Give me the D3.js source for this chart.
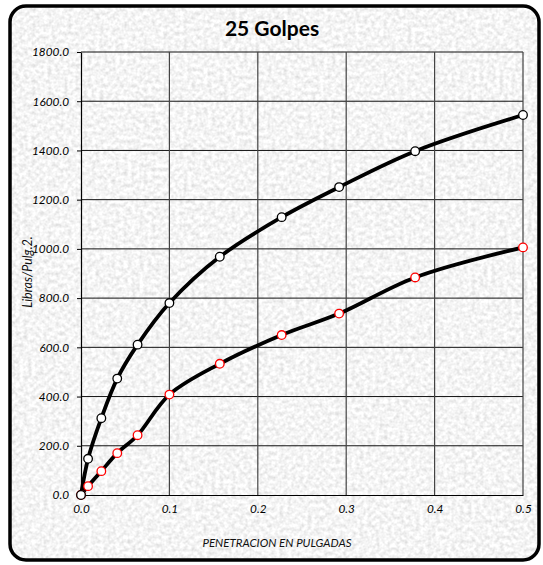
<!DOCTYPE html>
<html>
<head>
<meta charset="utf-8">
<script src="https://cdn.jsdelivr.net/npm/d3@7"></script>
<style>
  html, body { margin: 0; padding: 0; background: #ffffff; }
  svg { display: block; }
  .tick text { font-family: Lato, "Open Sans", sans-serif; font-style: italic; font-size: 11.8px; fill: #000; }
</style>
</head>
<body>
<script>
// CBR test, 25 blows: load (lb/in²) against penetration (in)
const penetracion = [0, 0.008, 0.023, 0.041, 0.064, 0.1, 0.157, 0.227, 0.292, 0.378, 0.5];
const cargaSuperior = [0, 147, 312, 473, 611, 780, 968, 1129, 1251, 1397, 1544];
const cargaInferior = [0, 36, 97, 170, 243, 408, 533, 650, 737, 884, 1006];
const yTicks = [0, 200, 400, 600, 800, 1000, 1200, 1400, 1600, 1800];
const xTicks = [0, 0.1, 0.2, 0.3, 0.4, 0.5];
const titulo = "25 Golpes";
const tituloX = "PENETRACION EN PULGADAS";
const tituloY = "Libras/Pulg.2.";

const W = 543, H = 565;
const plot = { left: 81, right: 523, top: 52, bottom: 495 };

const svg = d3.select("body").append("svg").attr("width", W).attr("height", H);
const defs = svg.append("defs");

// Granite-like speckled fill
const f = defs.append("filter").attr("id", "granito")
  .attr("x", 0).attr("y", 0).attr("width", "100%").attr("height", "100%");
f.append("feTurbulence").attr("type", "fractalNoise")
  .attr("baseFrequency", 0.25).attr("numOctaves", 4).attr("seed", 11).attr("result", "n");
f.append("feColorMatrix").attr("in", "n").attr("type", "matrix")
  .attr("values", "0.5 0 0 0 0.66  0.5 0 0 0 0.66  0.5 0 0 0 0.66  0 0 0 0 1");

const frame = { x: 10, y: 6, w: 529, h: 554, r: 16 };
defs.append("clipPath").attr("id", "marco").append("rect")
  .attr("x", frame.x).attr("y", frame.y).attr("width", frame.w).attr("height", frame.h)
  .attr("rx", frame.r);

svg.append("rect")
  .attr("x", frame.x).attr("y", frame.y).attr("width", frame.w).attr("height", frame.h)
  .attr("clip-path", "url(#marco)")
  .attr("filter", "url(#granito)");

svg.append("rect")
  .attr("x", frame.x).attr("y", frame.y).attr("width", frame.w).attr("height", frame.h)
  .attr("rx", frame.r).attr("fill", "none").attr("stroke", "#000").attr("stroke-width", 3.5);

const x = d3.scaleLinear().domain([0, 0.5]).range([plot.left, plot.right]);
const y = d3.scaleLinear().domain([0, 1800]).range([plot.bottom, plot.top]);

// grid
const grid = svg.append("g");
grid.selectAll("line.h").data(yTicks.slice(1)).join("line")
  .attr("x1", plot.left).attr("x2", plot.right)
  .attr("y1", d => y(d)).attr("y2", d => y(d))
  .attr("stroke", "#111").attr("stroke-width", 1);
grid.selectAll("line.v").data(xTicks.slice(1)).join("line")
  .attr("y1", plot.top).attr("y2", plot.bottom)
  .attr("x1", d => x(d)).attr("x2", d => x(d))
  .attr("stroke", "#444").attr("stroke-width", 1.2);

// axes
const ax = svg.append("g").attr("transform", `translate(0,${plot.bottom})`)
  .call(d3.axisBottom(x).tickValues(xTicks).tickFormat(d3.format(".1f")).tickSizeInner(0).tickSizeOuter(0).tickPadding(10));
ax.select(".domain").attr("stroke", "#000").attr("stroke-width", 1.2);

const ay = svg.append("g").attr("transform", `translate(${plot.left},0)`)
  .call(d3.axisLeft(y).tickValues(yTicks).tickFormat(d3.format(".1f")).tickSizeInner(4).tickSizeOuter(0).tickPadding(8));
ay.select(".domain").attr("stroke", "#000").attr("stroke-width", 1.2);
ay.selectAll(".tick line").attr("stroke", "#000");

// titles
svg.append("text").attr("x", 272).attr("y", 36).attr("text-anchor", "middle")
  .style("font-family", "Lato, 'Open Sans', sans-serif").style("font-weight", "bold").style("font-size", "21px")
  .attr("fill", "#000").text(titulo);
svg.append("text").attr("x", 277).attr("y", 547).attr("text-anchor", "middle")
  .style("font-family", "Lato, 'Open Sans', sans-serif").style("font-style", "italic").style("font-size", "11.5px")
  .attr("fill", "#111").text(tituloX);
svg.append("text").attr("transform", "translate(32,272) rotate(-90)").attr("text-anchor", "middle")
  .style("font-family", "Lato, 'Open Sans', sans-serif").style("font-style", "italic").style("font-size", "12.5px")
  .attr("fill", "#111").text(tituloY);

// series
const linea = d3.line().x(d => x(d[0])).y(d => y(d[1])).curve(d3.curveCatmullRom.alpha(0.5));
const series = [
  { datos: d3.zip(penetracion, cargaInferior), borde: "#ff0000" },
  { datos: d3.zip(penetracion, cargaSuperior), borde: "#000000" }
];
series.forEach(s => {
  svg.append("path").datum(s.datos).attr("d", linea)
    .attr("fill", "none").attr("stroke", "#000").attr("stroke-width", 3.8)
    .attr("stroke-linejoin", "round").attr("stroke-linecap", "round");
});
series.forEach(s => {
  svg.append("g").selectAll("circle").data(s.datos).join("circle")
    .attr("cx", d => x(d[0])).attr("cy", d => y(d[1])).attr("r", 4.3)
    .attr("fill", "#fff").attr("stroke", s.borde).attr("stroke-width", 1.3);
});
</script>
</body>
</html>
